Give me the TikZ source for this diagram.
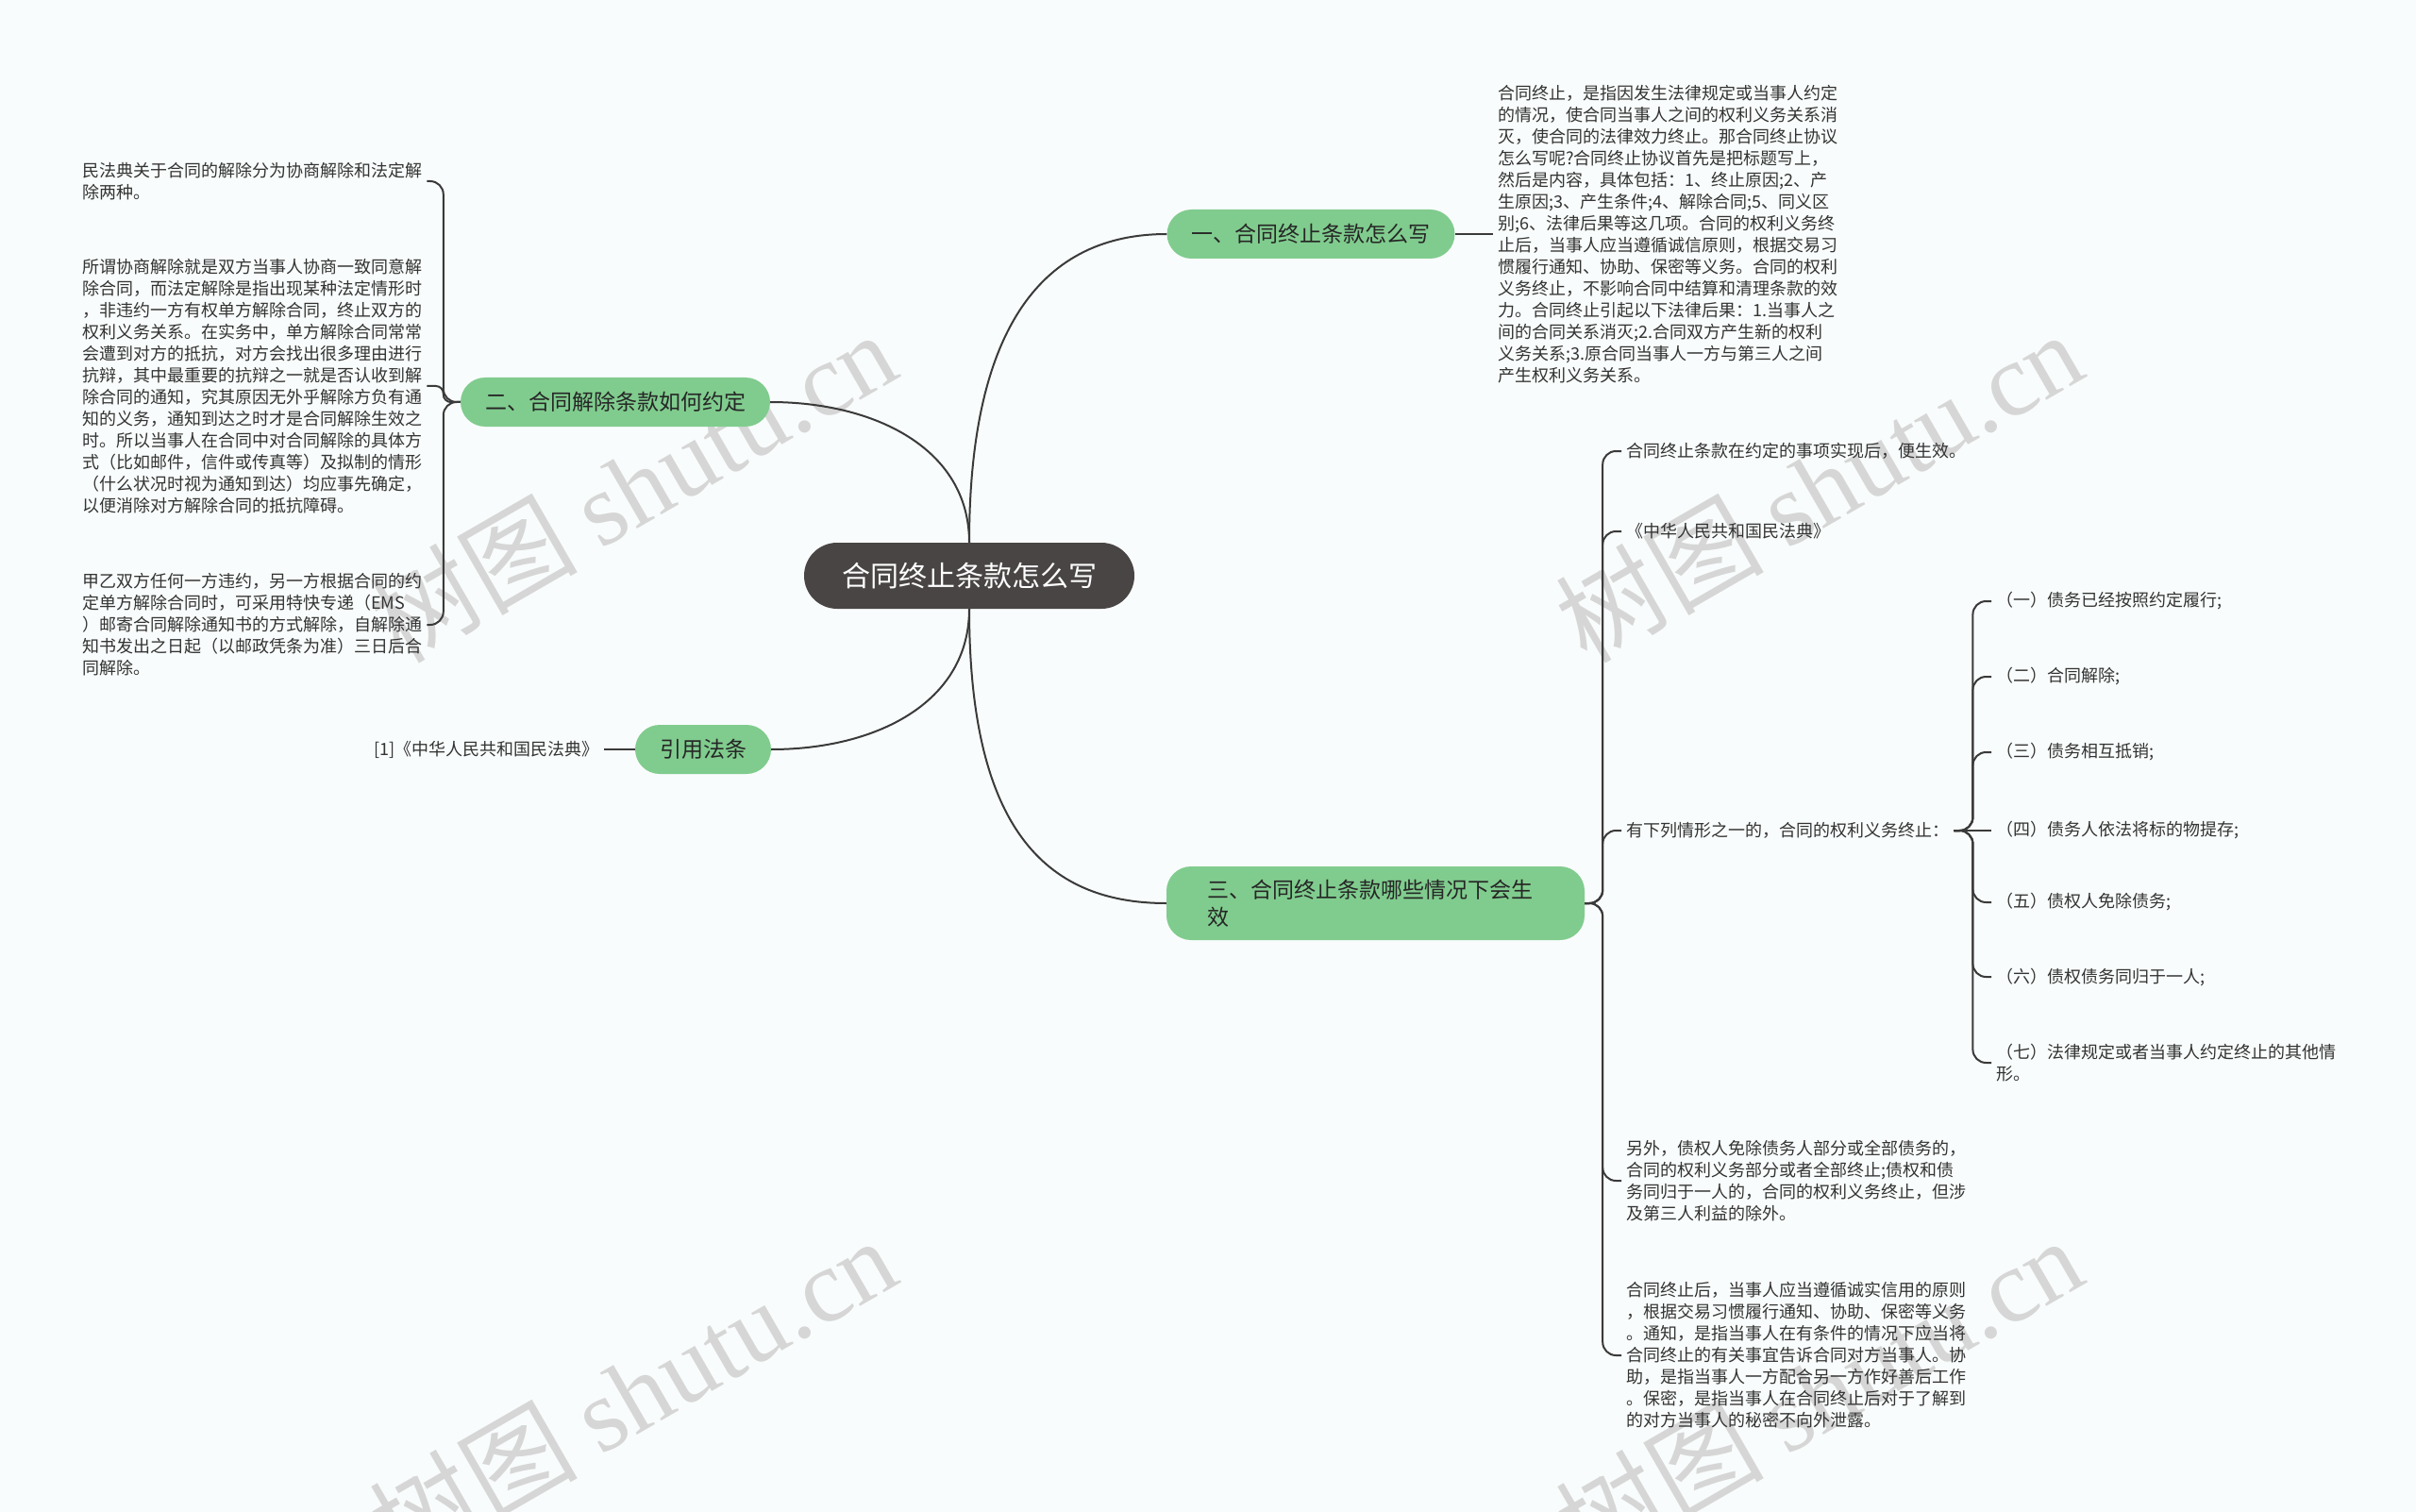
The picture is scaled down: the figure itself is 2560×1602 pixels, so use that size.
\documentclass[tikz,border=0pt]{standalone}
\usepackage{fontspec}
\setmainfont{Noto Sans CJK SC}
\newfontfamily\wmfont{Liberation Serif}
\usetikzlibrary{positioning}
\definecolor{bgc}{HTML}{F9FCFC}
\definecolor{topicgreen}{HTML}{80CC8E}
\definecolor{rootgray}{HTML}{4A4545}
\definecolor{linkgray}{HTML}{3A3A3A}
\definecolor{leaftext}{HTML}{333333}

\begin{document}
\begin{tikzpicture}[
  x=1pt, y=-1pt,
  root/.style={fill=rootgray, text=white, rounded corners=35pt, minimum width=350pt,
               minimum height=70pt, font=\fontsize{30}{36}\selectfont},
  topic/.style={fill=topicgreen, text=black!85, rounded corners=26pt, minimum height=52pt,
                inner xsep=26pt, inner ysep=10pt, font=\fontsize{23}{29}\selectfont},
  leaf/.style={text=leaftext, align=left, inner sep=5pt, font=\fontsize{18}{23}\selectfont},
  link/.style={draw=linkgray, line width=2pt},
  fork/.style={link, rounded corners=14pt},
  wmark/.style={text=black!16, rotate=30, font=\fontsize{110}{110}\selectfont}
]
\useasboundingbox (0,0) rectangle (2560,1602);
\fill[bgc] (0,0) rectangle (2560,1602);

\foreach \wx/\wy [count=\i] in {670/515, 1927/515, 670/1475, 1927/1475}
  \node[wmark] (wm\i) at (\wx,\wy) {树图 {\wmfont shutu.cn}};

\node[root] (main) at (1027,610) {合同终止条款怎么写};
\node[topic] (define) at (1389,248) {一、合同终止条款怎么写};
\node[topic] (rescind) at (652,426) {二、合同解除条款如何约定};
\node[topic] (cite) at (745,794) {引用法条};
\node[topic, minimum height=78pt, text width=357pt, align=left, inner xsep=43pt]
  (effect) at (1457.5,957) {三、合同终止条款哪些情况下会生\\效};

\node[leaf, anchor=west] (defineText) at (1582,248) {合同终止，是指因发生法律规定或当事人约定\\的情况，使合同当事人之间的权利义务关系消\\灭，使合同的法律效力终止。那合同终止协议\\怎么写呢?合同终止协议首先是把标题写上，\\然后是内容，具体包括：1、终止原因;2、产\\生原因;3、产生条件;4、解除合同;5、同义区\\别;6、法律后果等这几项。合同的权利义务终\\止后，当事人应当遵循诚信原则，根据交易习\\惯履行通知、协助、保密等义务。合同的权利\\义务终止，不影响合同中结算和清理条款的效\\力。合同终止引起以下法律后果：1.当事人之\\间的合同关系消灭;2.合同双方产生新的权利\\义务关系;3.原合同当事人一方与第三人之间\\产生权利义务关系。};

\node[leaf, anchor=west] (rescindA) at (82,192) {民法典关于合同的解除分为协商解除和法定解\\除两种。};
\node[leaf, anchor=west] (rescindB) at (82,409) {所谓协商解除就是双方当事人协商一致同意解\\除合同，而法定解除是指出现某种法定情形时\\，非违约一方有权单方解除合同，终止双方的\\权利义务关系。在实务中，单方解除合同常常\\会遭到对方的抵抗，对方会找出很多理由进行\\抗辩，其中最重要的抗辩之一就是否认收到解\\除合同的通知，究其原因无外乎解除方负有通\\知的义务，通知到达之时才是合同解除生效之\\时。所以当事人在合同中对合同解除的具体方\\式（比如邮件，信件或传真等）及拟制的情形\\（什么状况时视为通知到达）均应事先确定，\\以便消除对方解除合同的抵抗障碍。};
\node[leaf, anchor=west] (rescindC) at (82,662) {甲乙双方任何一方违约，另一方根据合同的约\\定单方解除合同时，可采用特快专递（EMS\\）邮寄合同解除通知书的方式解除，自解除通\\知书发出之日起（以邮政凭条为准）三日后合\\同解除。};

\node[leaf, anchor=east] (citeText) at (640,794) {[1]《中华人民共和国民法典》};

\node[leaf, anchor=west] (effectA) at (1718,478) {合同终止条款在约定的事项实现后，便生效。};
\node[leaf, anchor=west] (effectB) at (1718,563) {《中华人民共和国民法典》};
\node[leaf, anchor=west] (effectC) at (1718,880) {有下列情形之一的，合同的权利义务终止：};
\node[leaf, anchor=west] (effectD) at (1718,1251) {另外，债权人免除债务人部分或全部债务的，\\合同的权利义务部分或者全部终止;债权和债\\务同归于一人的，合同的权利义务终止，但涉\\及第三人利益的除外。};
\node[leaf, anchor=west] (effectE) at (1718,1436) {合同终止后，当事人应当遵循诚实信用的原则\\，根据交易习惯履行通知、协助、保密等义务\\。通知，是指当事人在有条件的情况下应当将\\合同终止的有关事宜告诉合同对方当事人。协\\助，是指当事人一方配合另一方作好善后工作\\。保密，是指当事人在合同终止后对于了解到\\的对方当事人的秘密不向外泄露。};

\node[leaf, anchor=west] (caseA) at (2110,637) {（一）债务已经按照约定履行;};
\node[leaf, anchor=west] (caseB) at (2110,717) {（二）合同解除;};
\node[leaf, anchor=west] (caseC) at (2110,797) {（三）债务相互抵销;};
\node[leaf, anchor=west] (caseD) at (2110,880) {（四）债务人依法将标的物提存;};
\node[leaf, anchor=west] (caseE) at (2110,956) {（五）债权人免除债务;};
\node[leaf, anchor=west] (caseF) at (2110,1035) {（六）债权债务同归于一人;};
\node[leaf, anchor=west] (caseG) at (2110,1126) {（七）法律规定或者当事人约定终止的其他情\\形。};

\draw[link] (main.north) .. controls +(0,-230) and +(-130,0) .. (define.west);
\draw[link] (main.north) .. controls +(0,-100) and +(110,0) .. (rescind.east);
\draw[link] (main.south) .. controls +(0,100) and +(110,0) .. (cite.east);
\draw[link] (main.south) .. controls +(0,230) and +(-130,0) .. (effect.west);

\draw[link] (define.east) -- (defineText.west);
\draw[link] (cite.west) -- (citeText.east);

\draw[fork] (rescind.west) -- ++(-18,0) |- (rescindA.east);
\draw[fork, rounded corners=8pt] (rescind.west) -- ++(-18,0) |- (rescindB.east);
\draw[fork] (rescind.west) -- ++(-18,0) |- (rescindC.east);

\foreach \leaf in {effectA,effectB,effectC,effectD,effectE}
  \draw[fork] (effect.east) -- ++(19,0) |- (\leaf.west);

\foreach \leaf in {caseA,caseB,caseC,caseE,caseF,caseG}
  \draw[fork] (effectC.east) -- ++(20,0) |- (\leaf.west);
\draw[link] (effectC.east) -- (caseD.west);
\end{tikzpicture}
\end{document}
